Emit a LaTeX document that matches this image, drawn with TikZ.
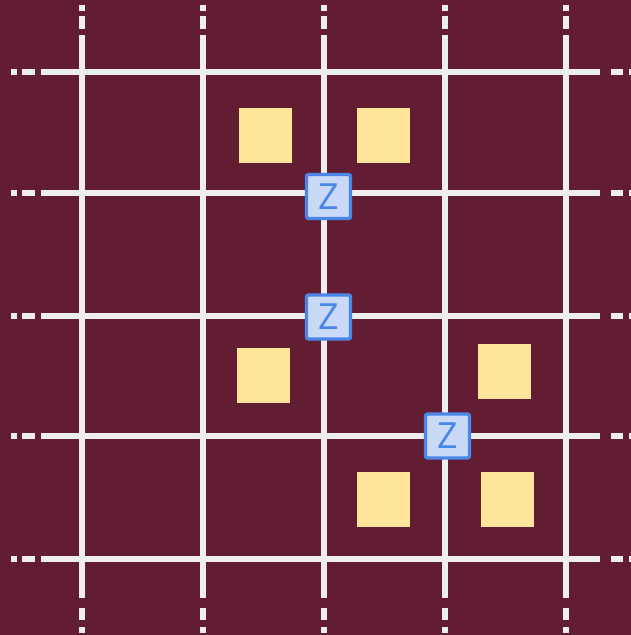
\documentclass[tikz,border=0pt]{standalone}
\usepackage{fontspec}
\setsansfont{Open Sans}
\definecolor{bgc}{HTML}{631D33}
\definecolor{gridc}{HTML}{EEEEEE}
\definecolor{yelc}{HTML}{FFE599}
\definecolor{zfill}{HTML}{C9DAF8}
\definecolor{zline}{HTML}{4A86E8}
\begin{document}
\begin{tikzpicture}[x=1pt,y=-1pt,
  gridline/.style={draw=gridc, line width=6pt},
  ysq/.style={fill=yelc, draw=none, inner sep=0pt, minimum width=53pt, minimum height=55pt},
  zbox/.style={fill=zfill, draw=zline, line width=3.3pt, rounded corners=2pt, inner sep=0pt,
    minimum size=44pt, text=zline, font=\sffamily\fontsize{36}{36}\selectfont}]
\fill[bgc] (0,0) rectangle (631,635);
\useasboundingbox (0,0) rectangle (631,635);
\foreach \x in {82,203,324,445,566} {
  \draw[gridline] (\x,35) -- (\x,598);
  \draw[gridline] (\x,16) -- (\x,29);
  \draw[gridline] (\x,5) -- (\x,10.5);
  \draw[gridline] (\x,608) -- (\x,620);
  \draw[gridline] (\x,627) -- (\x,633);
}
\foreach \y in {72,193,315.5,436,558.5} {
  \draw[gridline] (41,\y) -- (600,\y);
  \draw[gridline] (22,\y) -- (35,\y);
  \draw[gridline] (11,\y) -- (17,\y);
  \draw[gridline] (611,\y) -- (623,\y);
  \draw[gridline] (629,\y) -- (636,\y);
}
\node[ysq] (y1) at (265.5,135.5) {};
\node[ysq] (y2) at (383.5,135.5) {};
\node[ysq] (y3) at (263.5,375.5) {};
\node[ysq] (y4) at (504.5,371.5) {};
\node[ysq] (y5) at (383.5,499.5) {};
\node[ysq] (y6) at (507.5,499.5) {};
\node[zbox] (z1) at (328.5,196.5) {Z};
\node[zbox] (z2) at (328.5,317) {Z};
\node[zbox] (z3) at (447.5,436) {Z};
\end{tikzpicture}
\end{document}
